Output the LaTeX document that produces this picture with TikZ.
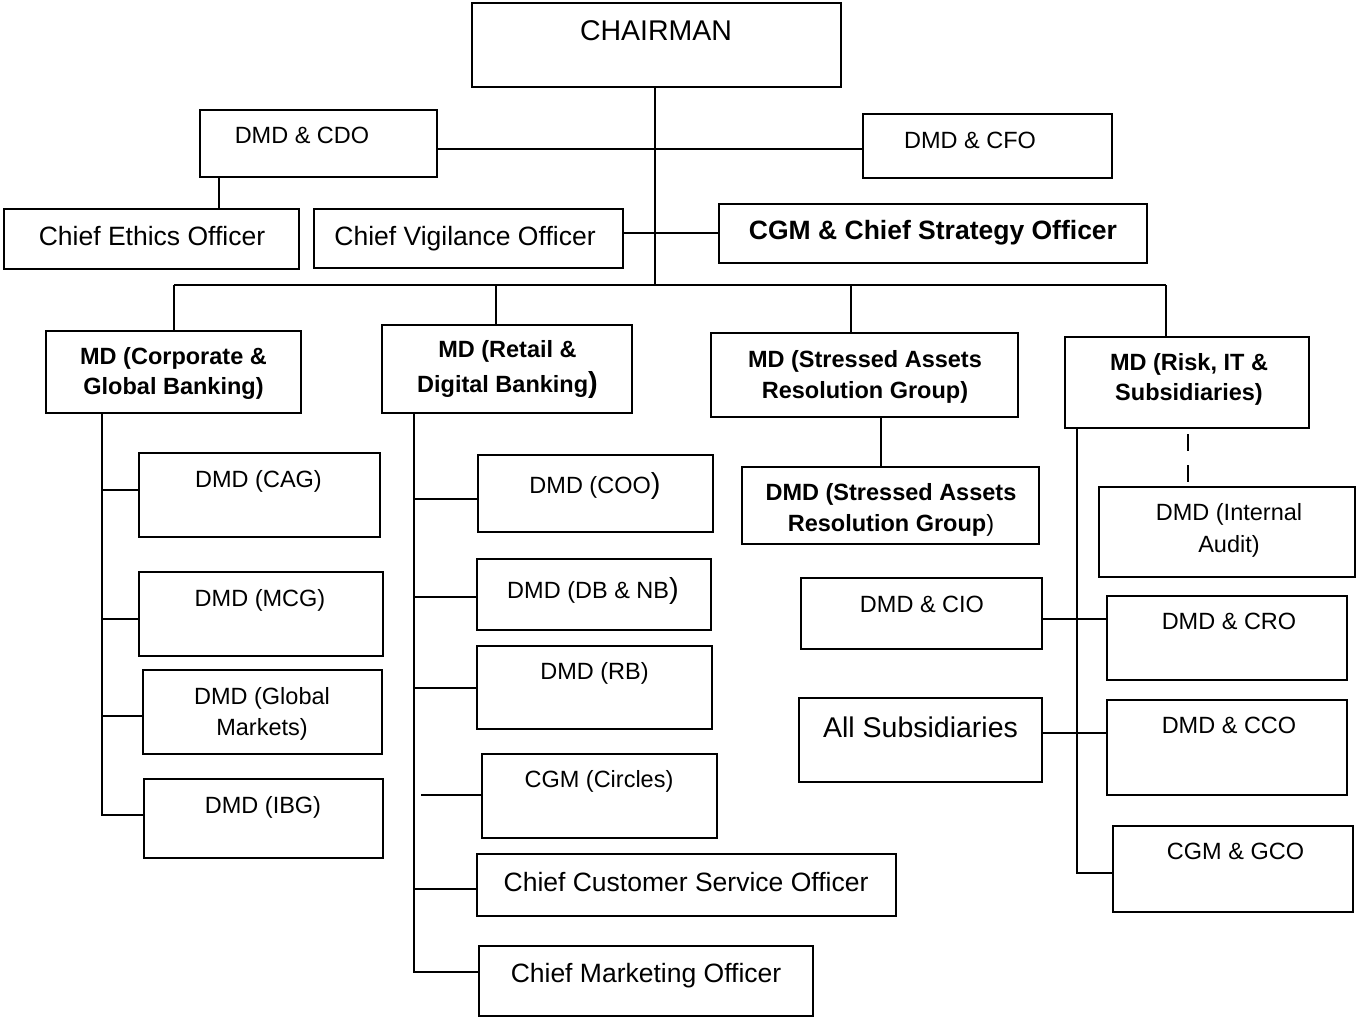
\documentclass[tikz,border=0pt]{standalone}
\usepackage{fontspec}
\setmainfont{Liberation Sans}
\usetikzlibrary{fit}
\newcommand\txR{\fontsize{23.5}{28}\selectfont}
\newcommand\txB{\fontsize{23.5}{28}\selectfont\bfseries}
\newcommand\txM{\fontsize{26.5}{30}\selectfont}
\newcommand\txMB{\fontsize{26.5}{30}\selectfont\bfseries}
\newcommand\txL{\fontsize{28.5}{32}\selectfont}
\newcommand\bigparen{{\fontsize{29}{30}\selectfont )}}
\newcommand\orgbox[5]{\node[obox, fit={(#2,#3) (#4,#5)}] (#1) {};}
\begin{document}
\begin{tikzpicture}[x=1pt,y=-1pt,
  obox/.style={draw, line width=1.6pt, inner sep=0pt, outer sep=0pt},
  lbl/.style={anchor=base, inner sep=0pt, outer sep=0pt, font=\txR},
  blbl/.style={anchor=base, inner sep=0pt, outer sep=0pt, font=\txB},
  ln/.style={line width=1.6pt}]
\useasboundingbox (0,0) rectangle (1356,1017);

% boxes
\orgbox{chair}{472}{3}{841}{87}
\orgbox{cdo}{200}{110}{437}{177}
\orgbox{cfo}{863}{114}{1112}{178}
\orgbox{eth}{4}{209}{299}{269}
\orgbox{cvo}{314}{209}{623}{268}
\orgbox{cso}{719}{204}{1147}{263}
\orgbox{mdc}{46}{331}{301}{413}
\orgbox{mdr}{382}{325}{632}{413}
\orgbox{mds}{711}{333}{1018}{417}
\orgbox{mdk}{1065}{337}{1309}{428}
\orgbox{cag}{139}{453}{380}{537}
\orgbox{mcg}{139}{572}{383}{656}
\orgbox{gm}{143}{670}{382}{754}
\orgbox{ibg}{144}{779}{383}{858}
\orgbox{coo}{478}{455}{713}{532}
\orgbox{dbnb}{477}{559}{711}{630}
\orgbox{rb}{477}{646}{712}{729}
\orgbox{circ}{482}{754}{717}{838}
\orgbox{ccso}{477}{854}{896}{916}
\orgbox{cmo}{479}{946}{813}{1016}
\orgbox{dsar}{742}{467}{1039}{544}
\orgbox{cio}{801}{578}{1042}{649}
\orgbox{subs}{799}{698}{1042}{782}
\orgbox{ia}{1099}{487}{1355}{577}
\orgbox{cro}{1107}{596}{1347}{680}
\orgbox{cco}{1107}{700}{1347}{795}
\orgbox{gco}{1113}{826}{1353}{912}

% texts
\node[lbl, font=\txL] (chair-t) at (656,40) {CHAIRMAN};
\node[lbl] (cdo-t) at (302,143) {DMD \& CDO};
\node[lbl] (cfo-t) at (970,148) {DMD \& CFO};
\node[lbl, font=\txM] (eth-t) at (152,245) {Chief Ethics Officer};
\node[lbl, font=\txM] (cvo-t) at (465,245) {Chief Vigilance Officer};
\node[lbl, font=\txMB] (cso-t) at (933,239) {CGM \& Chief Strategy Officer};
\node[blbl] (mdc-t1) at (173.5,364) {MD (Corporate \&};
\node[blbl] (mdc-t2) at (173.5,394) {Global Banking)};
\node[blbl] (mdr-t1) at (507.5,357) {MD (Retail \&};
\node[blbl] (mdr-t2) at (507.5,392) {Digital Banking\bigparen};
\node[blbl] (mds-t1) at (865,367) {MD (Stressed Assets};
\node[blbl] (mds-t2) at (865,398) {Resolution Group)};
\node[blbl] (mdk-t1) at (1189,370) {MD (Risk, IT \&};
\node[blbl] (mdk-t2) at (1189,400) {Subsidiaries)};
\node[lbl] (cag-t) at (258.5,487) {DMD (CAG)};
\node[lbl] (mcg-t) at (260,606) {DMD (MCG)};
\node[lbl] (gm-t1) at (262,704) {DMD (Global};
\node[lbl] (gm-t2) at (262,735) {Markets)};
\node[lbl] (ibg-t) at (263,813) {DMD (IBG)};
\node[lbl] (coo-t) at (595,493) {DMD (COO\bigparen};
\node[lbl] (dbnb-t) at (593,598) {DMD (DB \& NB\bigparen};
\node[lbl] (rb-t) at (594.5,679) {DMD (RB)};
\node[lbl] (circ-t) at (599,787) {CGM (Circles)};
\node[lbl, font=\txM] (ccso-t) at (686,891) {Chief Customer Service Officer};
\node[lbl, font=\txM] (cmo-t) at (646,982) {Chief Marketing Officer};
\node[blbl] (dsar-t1) at (891,500) {DMD (Stressed Assets};
\node[blbl] (dsar-t2) at (891,531) {Resolution Group{\mdseries )}};
\node[lbl] (ia-t1) at (1229,520) {DMD (Internal};
\node[lbl] (ia-t2) at (1229,552) {Audit)};
\node[lbl] (cio-t) at (922,612) {DMD \& CIO};
\node[lbl] (cro-t) at (1229,629) {DMD \& CRO};
\node[lbl, font=\txL] (subs-t) at (920.5,737) {All Subsidiaries};
\node[lbl] (cco-t) at (1229,733) {DMD \& CCO};
\node[lbl] (gco-t) at (1235.5,859) {CGM \& GCO};

% top connectors
\coordinate (busL) at (174,285);
\coordinate (busR) at (1166,285);
\draw[ln] (busL) -- (busR);
\draw[ln] (655,0 |- chair.south) -- (655,0 |- busL);
\draw[ln] (cdo.east |- 0,149) -- (cfo.west |- 0,149);
\draw[ln] (cvo.east |- 0,233) -- (cso.west |- 0,233);
\draw[ln] (219,0 |- cdo.south) -- (219,0 |- eth.north);
\draw[ln] (busL) -- (busL |- mdc.north);
\draw[ln] (496,0 |- busL) -- (496,0 |- mdr.north);
\draw[ln] (851,0 |- busL) -- (851,0 |- mds.north);
\draw[ln] (busR) -- (busR |- mdk.north);

% corporate column
\coordinate (lsp) at (102,0);
\draw[ln] (lsp |- mdc.south) -- (lsp |- 0,815) -- (ibg.west |- 0,815);
\draw[ln] (lsp |- 0,490) -- (cag.west |- 0,490);
\draw[ln] (lsp |- 0,619) -- (mcg.west |- 0,619);
\draw[ln] (lsp |- 0,716) -- (gm.west |- 0,716);

% retail column
\coordinate (rsp) at (414,0);
\draw[ln] (rsp |- mdr.south) -- (rsp |- 0,972) -- (cmo.west |- 0,972);
\draw[ln] (rsp |- 0,499) -- (coo.west |- 0,499);
\draw[ln] (rsp |- 0,597) -- (dbnb.west |- 0,597);
\draw[ln] (rsp |- 0,688) -- (rb.west |- 0,688);
\draw[ln] (421,795) -- (circ.west |- 0,795);
\draw[ln] (rsp |- 0,889) -- (ccso.west |- 0,889);

% stressed assets
\draw[ln] (881,0 |- mds.south) -- (881,0 |- dsar.north);

% risk column
\coordinate (ksp) at (1077,0);
\draw[ln] (ksp |- mdk.south) -- (ksp |- 0,873) -- (gco.west |- 0,873);
\draw[ln] (cio.east |- 0,619) -- (cro.west |- 0,619);
\draw[ln] (subs.east |- 0,733) -- (cco.west |- 0,733);
\draw[ln, dash pattern=on 17pt off 14pt, shorten <=6pt, shorten >=4pt] (1188,0 |- mdk.south) -- (1188,0 |- ia.north);
\end{tikzpicture}
\end{document}
